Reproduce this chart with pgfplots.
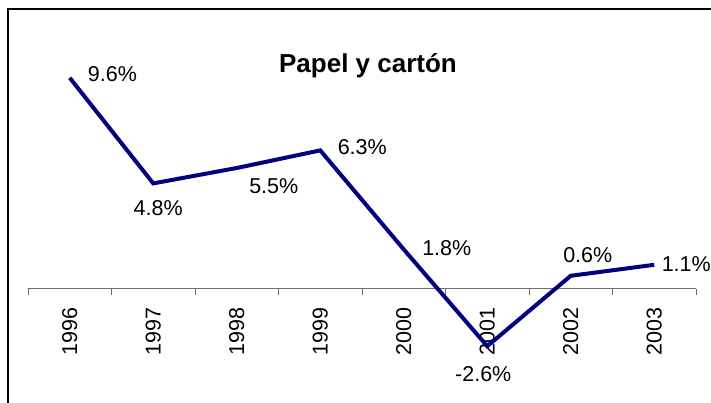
\documentclass[border=0pt]{standalone}
\usepackage{pgfplots}
\usepackage{pgfplotstable}
\pgfplotsset{compat=1.18}
\usepackage{fontspec}
\setmainfont{Liberation Sans}
\definecolor{navyline}{RGB}{0,0,128}
\definecolor{axgray}{RGB}{110,110,110}

\pgfplotstableread{
x y lab dx dy
0 9.6 9.6 42.7 3.8
1 4.8 4.8 5 -24.6
2 5.5 5.5 37 -18
3 6.3 6.3 42 3.4
4 1.8 1.8 43 1.4
5 -2.6 -2.6 -4 -28
6 0.6 0.6 17 21
7 1.1 1.1 32 1
}\datatable

\begin{document}
\begin{tikzpicture}[x=1pt,y=1pt]
\useasboundingbox (0,0) rectangle (711,403);
\draw[black, line width=1.2pt] (8,0) -- (8,394) -- (711,394);
\node[font=\fontsize{26}{30}\selectfont\bfseries] at (368,337) {Papel y cartón};
\begin{axis}[
  at={(28pt,26pt)}, anchor=south west,
  scale only axis, width=668pt, height=352pt,
  xmin=-0.5, xmax=7.5, ymin=-4, ymax=12,
  axis x line=middle, axis y line=none,
  hide obscured x ticks=false,
  axis line style={-, draw=axgray, line width=1pt},
  xtick={0,1,2,3,4,5,6,7},
  xticklabels={1996,1997,1998,1999,2000,2001,2002,2003},
  major tick length=0pt,
  extra x ticks={-0.5,0.5,1.5,2.5,3.5,4.5,5.5,6.5,7.5},
  extra x tick labels={},
  extra x tick style={major tick length=6pt, tick align=outside,
     tick style={draw=axgray, line width=1pt}},
  xticklabel style={rotate=90, anchor=east, font=\fontsize{21.5}{24}\selectfont, xshift=-15pt},
  /pgf/number format/assume math mode=true,
  clip=false,
]
\addplot[color=navyline, line width=4pt] table[x=x, y=y] {\datatable};
\addplot[draw=none, mark=none,
  point meta=explicit symbolic,
  visualization depends on={\thisrow{dx} \as \dx},
  visualization depends on={\thisrow{dy} \as \dy},
  nodes near coords={\pgfplotspointmeta\%},
  every node near coord/.append style={anchor=center, inner sep=0pt,
     xshift=\dx pt, yshift=\dy pt, font=\fontsize{21.5}{24}\selectfont, text=black},
] table[x=x, y=y, meta=lab] {\datatable};
\end{axis}
\end{tikzpicture}
\end{document}
